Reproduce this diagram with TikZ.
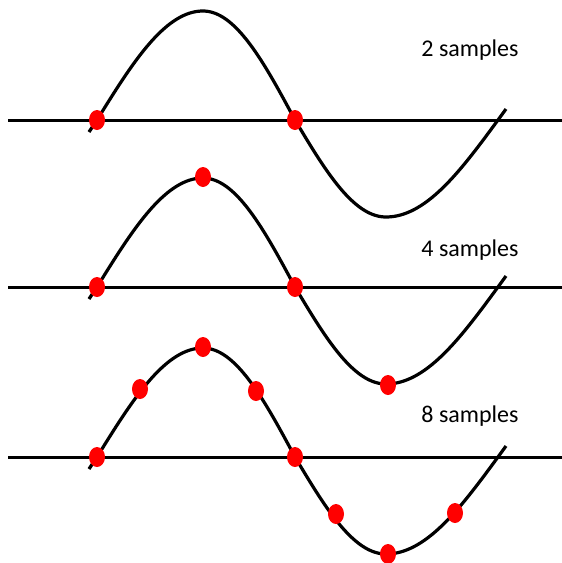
\documentclass[tikz,border=0pt]{standalone}
\usepackage{fontspec}
\setmainfont{Carlito}
\usetikzlibrary{shapes.geometric}
\tikzset{
  wave/.style={line width=3.2pt, line join=round},
  axisline/.style={line width=3pt},
  sample/.style={ellipse, fill=red, draw=none, minimum width=16pt, minimum height=20pt, inner sep=0pt},
  lbl/.style={font=\fontsize{24}{28}\selectfont, anchor=base, inner sep=0pt}
}
\begin{document}
\begin{tikzpicture}[x=1pt,y=-1pt]
\useasboundingbox (0,0) rectangle (562,563);
\foreach \n/\y in {a/120,b/287,c/457}{
  \coordinate (\n L) at (8,\y);
  \coordinate (\n R) at (562,\y);
  \draw[axisline] (\n L) -- (\n R);
  \draw[wave] (89,\y+12)
    -- plot[domain=97:203, samples=40] (\x, {\y-109*sin(90*(\x-97)/106)})
    -- plot[domain=203:295, samples=40] (\x, {\y-109*cos(90*(\x-203)/92)})
    -- plot[domain=295:386, samples=40] (\x, {\y+97*sin(90*(\x-295)/91)})
    -- plot[domain=386:498, samples=40] (\x, {\y+97*cos(90*(\x-386)/112)})
    -- (506,\y-11);
}
% top wave: 2 samples
\node[sample] (a1) at (97,120) {};
\node[sample] (a2) at (295,120) {};
% middle wave: 4 samples
\node[sample] (b1) at (97,287) {};
\node[sample] (b2) at (203,177) {};
\node[sample] (b3) at (295,287) {};
\node[sample] (b4) at (388,385) {};
% bottom wave: 8 samples
\node[sample] (c1) at (97,457) {};
\node[sample] (c2) at (140,389) {};
\node[sample] (c3) at (203,347) {};
\node[sample] (c4) at (256,391) {};
\node[sample] (c5) at (295,457) {};
\node[sample] (c6) at (336,514) {};
\node[sample] (c7) at (388,554) {};
\node[sample] (c8) at (455,513) {};
\node[lbl] (t2) at (470,56.7) {2 samples};
\node[lbl] (t4) at (470,256) {4 samples};
\node[lbl] (t8) at (470,422.7) {8 samples};
\end{tikzpicture}
\end{document}
